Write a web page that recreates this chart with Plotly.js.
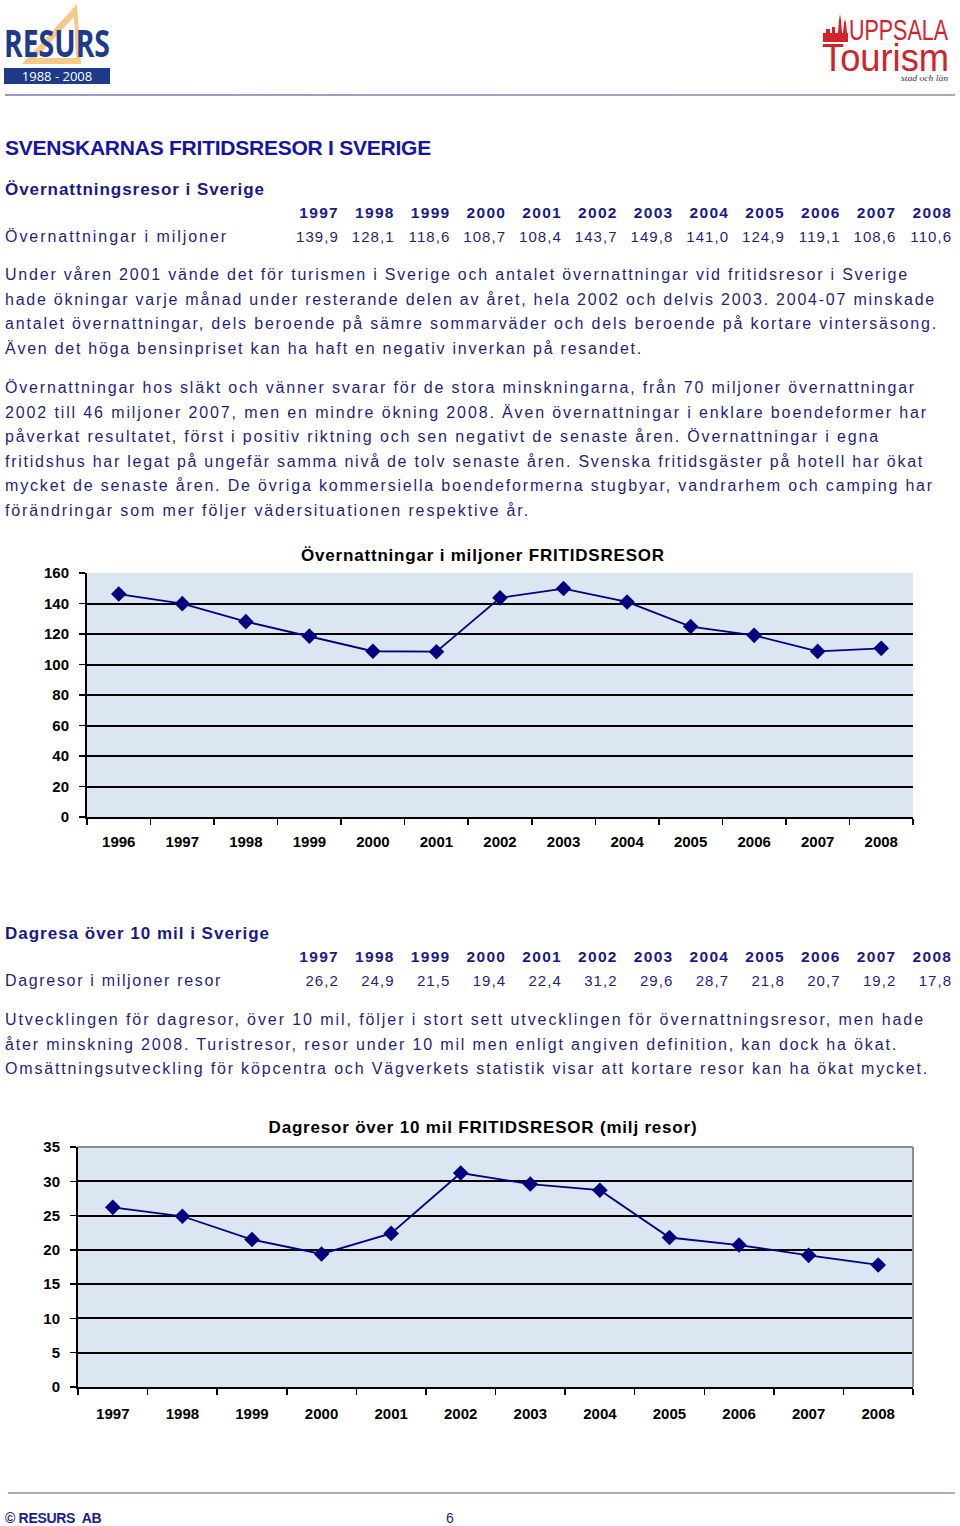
<!DOCTYPE html>
<html>
<head>
<meta charset="utf-8">
<script src="https://cdn.plot.ly/plotly-3.0.1.min.js"></script>
<style>
  body { margin: 0; background: #ffffff; }
  #page { position: relative; width: 960px; height: 1526px; overflow: hidden;
          font-family: "Liberation Sans", Arial, sans-serif; color: #1f1f80; background:#fff; }
  .t { position: absolute; white-space: nowrap; line-height: 1; left: 5px; }
  .body { font-size: 16px; color: #1f1f80; }
  .h { font-size: 17px; font-weight: bold; color: #18188e; }
  .title { font-size: 21px; font-weight: bold; color: #1414a6; }
  .yr { position: absolute; white-space: nowrap; line-height: 1; font-size: 15.5px; font-weight: bold;
        color: #18188e; letter-spacing: 1.3px; text-align: right; }
  .val { position: absolute; white-space: nowrap; line-height: 1; font-size: 15px; color: #1f1f80;
         letter-spacing: 1.1px; text-align: right; }
  .chart { position: absolute; left: 0; width: 960px; }
  .gtitle { letter-spacing: 0.8px; }
</style>
</head>
<body>
<div id="page">
  <!-- RESURS logo -->
  <svg style="position:absolute;left:0;top:0" width="130" height="92">
    <polygon points="77,4 81,64 22,64" fill="#F7C987"/>
    <polygon points="74,17 76,58 36,58" fill="#ffffff"/>
    <text x="4" y="57" font-family="Open Sans, Liberation Sans" font-weight="700" font-size="37"
          fill="#1E3A8A" textLength="106" lengthAdjust="spacingAndGlyphs">RESURS</text>
    <rect x="4" y="68" width="106" height="16" fill="#1E3A8A"/>
    <text x="57" y="81" text-anchor="middle" font-family="Open Sans, Liberation Sans" font-size="13"
          fill="#ffffff">1988 - 2008</text>
  </svg>
  <!-- Uppsala Tourism logo -->
  <svg style="position:absolute;left:0;top:0" width="960" height="100">
    <g fill="#D2232A">
      <rect x="823" y="33" width="25" height="9"/>
      <polygon points="838,33 839,20 840,14 841,20 842,33"/>
      <polygon points="843,33 844,23 845,19 846,23 847,33"/>
      <rect x="826" y="29" width="4" height="5"/>
      <rect x="832" y="27" width="3" height="7"/>
    </g>
    <text x="849" y="40" font-family="Liberation Sans" font-size="29" fill="#D2232A"
          textLength="99" lengthAdjust="spacingAndGlyphs">UPPSALA</text>
    <text x="822" y="71" font-family="Liberation Sans" font-size="39" fill="#D2232A"
          textLength="127" lengthAdjust="spacingAndGlyphs">Tourism</text>
    <text x="901" y="81" font-family="Liberation Serif" font-style="italic" font-size="8.5" fill="#333"
          textLength="47" lengthAdjust="spacingAndGlyphs">stad och län</text>
    <defs>
      <linearGradient id="hl" x1="0" x2="1" y1="0" y2="0">
        <stop offset="0" stop-color="#9A9ACA"/>
        <stop offset="1" stop-color="#A8AAB8"/>
      </linearGradient>
    </defs>
    <rect x="5" y="94" width="950" height="2" fill="url(#hl)"/>
  </svg>

  <div class="t title" data-w="426" style="top:137px">SVENSKARNAS FRITIDSRESOR I SVERIGE</div>
  <div class="t h" data-w="260" style="top:181px">Övernattningsresor i Sverige</div>
  <div id="tab1"></div>

  <div class="t body" data-w="904" style="top:267px">Under våren 2001 vände det för turismen i Sverige och antalet övernattningar vid fritidsresor i Sverige</div>
  <div class="t body" data-w="931" style="top:292px">hade ökningar varje månad under resterande delen av året, hela 2002 och delvis 2003. 2004-07 minskade</div>
  <div class="t body" data-w="933" style="top:316px">antalet övernattningar, dels beroende på sämre sommarväder och dels beroende på kortare vintersäsong.</div>
  <div class="t body" data-w="638" style="top:341px">Även det höga bensinpriset kan ha haft en negativ inverkan på resandet.</div>

  <div class="t body" data-w="911" style="top:380px">Övernattningar hos släkt och vänner svarar för de stora minskningarna, från 70 miljoner övernattningar</div>
  <div class="t body" data-w="923" style="top:405px">2002 till 46 miljoner 2007, men en mindre ökning 2008. Även övernattningar i enklare boendeformer har</div>
  <div class="t body" data-w="875" style="top:429px">påverkat resultatet, först i positiv riktning och sen negativt de senaste åren. Övernattningar i egna</div>
  <div class="t body" data-w="919" style="top:454px">fritidshus har legat på ungefär samma nivå de tolv senaste åren. Svenska fritidsgäster på hotell har ökat</div>
  <div class="t body" data-w="929" style="top:478px">mycket de senaste åren. De övriga kommersiella boendeformerna stugbyar, vandrarhem och camping har</div>
  <div class="t body" data-w="525" style="top:503px">förändringar som mer följer vädersituationen respektive år.</div>

  <div id="chart1" class="chart" style="top:540px;height:330px"></div>

  <div class="t h" data-w="265" style="top:925px">Dagresa över 10 mil i Sverige</div>
  <div id="tab2"></div>

  <div class="t body" data-w="920" style="top:1012px">Utvecklingen för dagresor, över 10 mil, följer i stort sett utvecklingen för övernattningsresor, men hade</div>
  <div class="t body" data-w="893" style="top:1037px">åter minskning 2008. Turistresor, resor under 10 mil men enligt angiven definition, kan dock ha ökat.</div>
  <div class="t body" data-w="924" style="top:1061px">Omsättningsutveckling för köpcentra och Vägverkets statistik visar att kortare resor kan ha ökat mycket.</div>

  <div id="chart2" class="chart" style="top:1100px;height:340px"></div>

  <div style="position:absolute;left:8px;top:1492px;width:947px;height:2px;background:#A4AEBE"></div>
  <div class="t" style="top:1511px;font-size:14px;font-weight:bold;color:#1a1a9a;letter-spacing:-0.3px">© RESURS&nbsp; AB</div>
  <div class="t" style="top:1511px;left:446px;font-size:14px;color:#1a1a9a">6</div>
</div>

<script>
// ---- data ----
const nightCategories = ['1996','1997','1998','1999','2000','2001','2002','2003','2004','2005','2006','2007','2008'];
const nightValues = [146.2, 139.9, 128.1, 118.6, 108.7, 108.4, 143.7, 149.8, 141.0, 124.9, 119.1, 108.6, 110.6];
const dayCategories = ['1997','1998','1999','2000','2001','2002','2003','2004','2005','2006','2007','2008'];
const dayValues = [26.2, 24.9, 21.5, 19.4, 22.4, 31.2, 29.6, 28.7, 21.8, 20.7, 19.2, 17.8];
const tableYears = ['1997','1998','1999','2000','2001','2002','2003','2004','2005','2006','2007','2008'];
const nightTableValues = nightValues.slice(1);
const dayTableValues = dayValues;
const nightRowLabel = 'Övernattningar i miljoner';
const dayRowLabel = 'Dagresor i miljoner resor';

function fmt(v) { return v.toFixed(1).replace('.', ','); }

function buildTable(host, yearsTop, valsTop, label, labelW, vals) {
  const el = document.getElementById(host);
  let html = '<div class="t body" data-w="' + labelW + '" style="top:' + valsTop + 'px">' + label + '</div>';
  tableYears.forEach((y, i) => {
    const right = 960 - (339 + i * 55.75);
    html += '<div class="yr" style="top:' + yearsTop + 'px;right:' + right + 'px">' + y + '</div>';
    html += '<div class="val" style="top:' + valsTop + 'px;right:' + right + 'px">' + fmt(vals[i]) + '</div>';
  });
  el.innerHTML = html;
}
buildTable('tab1', 205, 229, nightRowLabel, 223, nightTableValues);
buildTable('tab2', 949, 973, dayRowLabel, 217, dayTableValues);

function fitLines() {
  document.querySelectorAll('[data-w]').forEach(el => {
    el.style.letterSpacing = '0px';
    const w0 = el.getBoundingClientRect().width;
    const n = el.textContent.length;
    const target = +el.dataset.w;
    el.style.letterSpacing = ((target - w0) / n) + 'px';
  });
}
fitLines();
if (document.fonts && document.fonts.ready) document.fonts.ready.then(fitLines);

// ---- charts ----
const FONT = 'Liberation Sans, Arial, sans-serif';
const lineColor = '#000080';

function axisX(n, standoff) {
  return {
    type: 'category', range: [-0.5, n - 0.5], tickson: 'boundaries',
    ticks: 'outside', ticklen: 6, tickwidth: 1.5, tickcolor: '#000',
    showgrid: false, showline: true, linecolor: '#000', linewidth: 2, zeroline: false,
    tickfont: { family: FONT, size: 15, color: '#000', weight: 'bold' },
    ticklabelstandoff: standoff, fixedrange: true
  };
}
function axisY(max, dtick, standoff) {
  return {
    range: [0, max], tick0: 0, dtick: dtick,
    ticks: 'outside', ticklen: 6, tickwidth: 1.5, tickcolor: '#000',
    showgrid: true, gridcolor: '#000', gridwidth: 2, zeroline: false,
    showline: true, linecolor: '#000', linewidth: 2,
    tickfont: { family: FONT, size: 15, color: '#000', weight: 'bold' },
    ticklabelstandoff: standoff, fixedrange: true
  };
}

const trace1 = {
  x: nightCategories, y: nightValues, type: 'scatter', mode: 'lines+markers',
  line: { color: lineColor, width: 1.8 },
  marker: { symbol: 'diamond', size: 12, color: lineColor },
  hoverinfo: 'skip'
};
const layout1 = {
  width: 960, height: 330,
  margin: { l: 87, r: 47, t: 33, b: 53 },
  paper_bgcolor: 'rgba(0,0,0,0)', plot_bgcolor: '#DCE6F2',
  showlegend: false,
  title: { text: '<b>Övernattningar i miljoner FRITIDSRESOR</b>', x: 483 / 960, xanchor: 'center',
           y: 1 - 15 / 330, yanchor: 'middle', font: { family: FONT, size: 17, color: '#000' } },
  xaxis: axisX(nightCategories.length, 10),
  yaxis: axisY(160, 20, 7)
};

const trace2 = {
  x: dayCategories, y: dayValues, type: 'scatter', mode: 'lines+markers',
  line: { color: lineColor, width: 1.8 },
  marker: { symbol: 'diamond', size: 12, color: lineColor },
  hoverinfo: 'skip'
};
const layout2 = {
  width: 960, height: 340,
  margin: { l: 78, r: 47, t: 47, b: 53 },
  paper_bgcolor: 'rgba(0,0,0,0)', plot_bgcolor: '#DCE6F2',
  showlegend: false,
  title: { text: '<b>Dagresor över 10 mil FRITIDSRESOR (milj resor)</b>', x: 483 / 960, xanchor: 'center',
           y: 1 - 27 / 340, yanchor: 'middle', font: { family: FONT, size: 17, color: '#000' } },
  xaxis: axisX(dayCategories.length, 12),
  yaxis: axisY(35, 5, 7),
  shapes: [
    { type: 'line', xref: 'paper', yref: 'paper', x0: 0, x1: 1, y0: 1, y1: 1, line: { color: '#8C8C8C', width: 2 }, layer: 'above' },
    { type: 'line', xref: 'paper', yref: 'paper', x0: 1, x1: 1, y0: 0, y1: 1, line: { color: '#8C8C8C', width: 2 }, layer: 'above' }
  ]
};

const cfg = { staticPlot: true, displayModeBar: false };
Plotly.newPlot('chart1', [trace1], layout1, cfg);
Plotly.newPlot('chart2', [trace2], layout2, cfg);
</script>
</body>
</html>
